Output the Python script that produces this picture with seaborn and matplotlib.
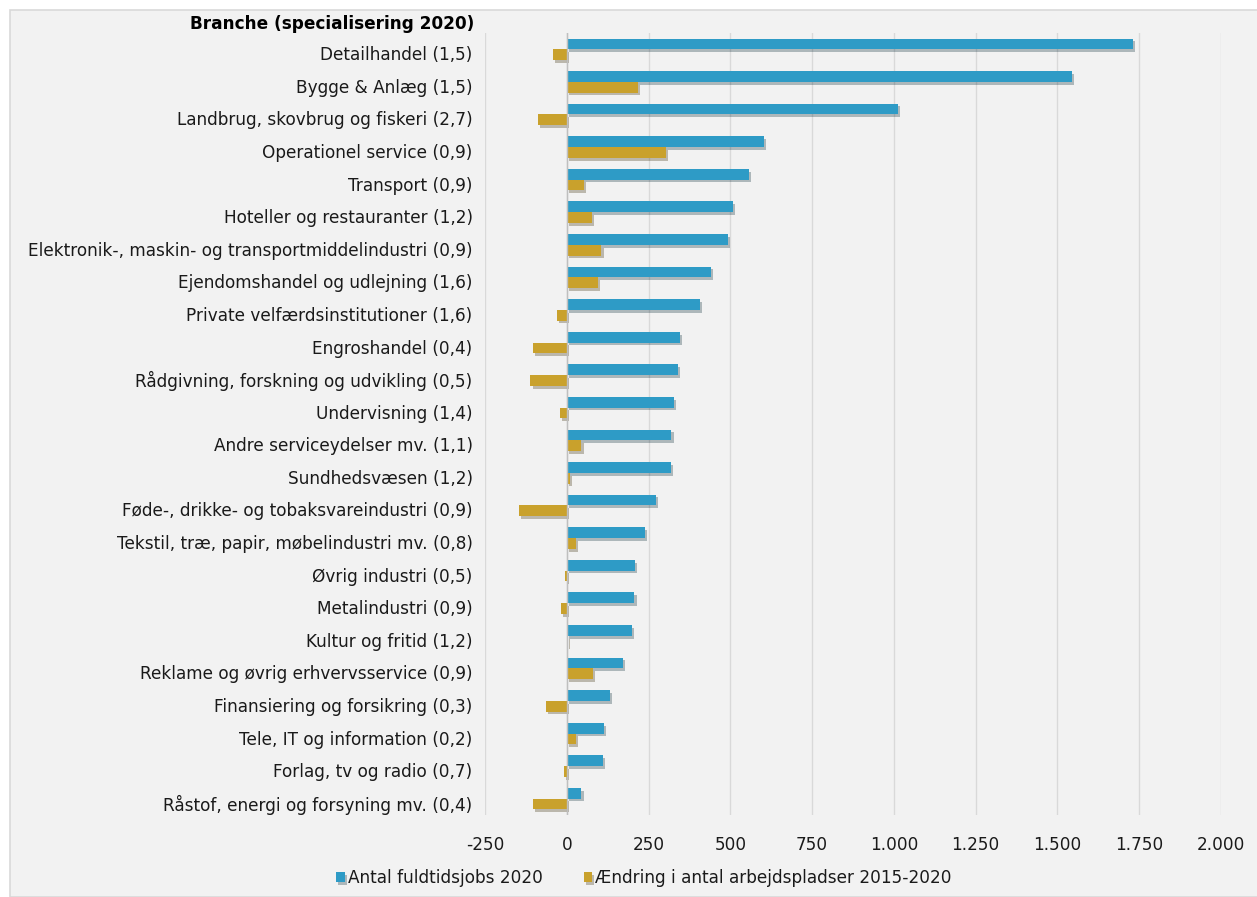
import numpy as np
import pandas as pd
import matplotlib
matplotlib.use('Agg')
import matplotlib.pyplot as plt
import matplotlib.patheffects as pe
import matplotlib.transforms as mtransforms
from matplotlib.patches import Rectangle
from matplotlib.ticker import FuncFormatter
import seaborn as sns

# ── Data ──────────────────────────────────────────────────────
branches = [
    'Detailhandel (1,5)', 'Bygge & Anlæg (1,5)', 'Landbrug, skovbrug og fiskeri (2,7)',
    'Operationel service (0,9)', 'Transport (0,9)', 'Hoteller og restauranter (1,2)',
    'Elektronik-, maskin- og transportmiddelindustri (0,9)', 'Ejendomshandel og udlejning (1,6)',
    'Private velfærdsinstitutioner (1,6)', 'Engroshandel (0,4)',
    'Rådgivning, forskning og udvikling (0,5)', 'Undervisning (1,4)',
    'Andre serviceydelser mv. (1,1)', 'Sundhedsvæsen (1,2)',
    'Føde-, drikke- og tobaksvareindustri (0,9)', 'Tekstil, træ, papir, møbelindustri mv. (0,8)',
    'Øvrig industri (0,5)', 'Metalindustri (0,9)', 'Kultur og fritid (1,2)',
    'Reklame og øvrig erhvervsservice (0,9)', 'Finansiering og forsikring (0,3)',
    'Tele, IT og information (0,2)', 'Forlag, tv og radio (0,7)',
    'Råstof, energi og forsyning mv. (0,4)',
]
jobs_2020 = [1730, 1545, 1013, 604, 558, 507, 493, 440, 408, 345, 339, 328,
             320, 319, 273, 238, 209, 207, 198, 172, 133, 113, 110, 45]
change_2015_2020 = [-43, 217, -89, 304, 53, 77, 106, 94, -31, -102, -111, -20,
                    45, 9, -145, 28, -4, -17, 5, 79, -64, 27, -10, -104]
series_names = ['Antal fuldtidsjobs 2020', 'Ændring i antal arbejdspladser 2015-2020']
xticks = [-250, 0, 250, 500, 750, 1000, 1250, 1500, 1750, 2000]

colors = ['#2e9bc6', '#c9a12c']

df = pd.DataFrame({
    'branche': branches * 2,
    'value': jobs_2020 + change_2015_2020,
    'serie': [series_names[0]] * len(branches) + [series_names[1]] * len(branches),
})

# ── Figure ────────────────────────────────────────────────────
plt.rcParams['font.family'] = ['DejaVu Sans']
FS = 12.2
W, H = 1257, 897
fig = plt.figure(figsize=(W / 100, H / 100), dpi=100, facecolor='white')
fig.patches.append(Rectangle((10 / W, 0), 1.2, (H - 10) / H, transform=fig.transFigure,
                             facecolor='#f2f2f2', edgecolor='#d9d9d9', lw=1.2, zorder=-10))

ax = fig.add_axes([485 / W, 1 - 815 / H, (1221 - 485) / W, (815 - 33) / H])
ax.set_facecolor('none')

sns.barplot(data=df, y='branche', x='value', hue='serie', hue_order=series_names,
            palette=colors, orient='h', width=0.66, saturation=1, ax=ax,
            order=branches, legend=True)

# subtle drop shadow like the Excel original
for p in ax.patches:
    p.set_path_effects([pe.SimplePatchShadow(offset=(1.5, -2), alpha=0.3, rho=0.3),
                        pe.Normal()])
    p.set_linewidth(0)

ax.set_xlim(-250, 2000)
ax.set_xticks(xticks)
ax.xaxis.set_major_formatter(FuncFormatter(lambda v, _: f'{int(v):,}'.replace(',', '.')))
ax.grid(axis='x', color='#d9d9d9', lw=1)
ax.set_axisbelow(True)
ax.axvline(0, color='#bfbfbf', lw=1, zorder=1)
for s in ax.spines.values():
    s.set_visible(False)
ax.tick_params(axis='both', length=0, labelsize=FS, colors='#1a1a1a')
ax.tick_params(axis='y', pad=9)
ax.tick_params(axis='x', pad=15)
ax.set_xlabel('')
ax.set_ylabel('')

# category labels sit a little below the bar pair, as in the original
shift = mtransforms.ScaledTranslation(0, -4 / 100, fig.dpi_scale_trans)
for lbl in ax.get_yticklabels():
    lbl.set_transform(lbl.get_transform() + shift)

fig.text(474 / W, 1 - 24 / H, 'Branche (specialisering 2020)', ha='right', va='center',
         fontsize=FS, fontweight='bold', color='#000000')

handles, labels = ax.get_legend_handles_labels()
ax.get_legend().remove()
fig.legend(handles, labels, loc='center', bbox_to_anchor=(644 / W, 1 - 878 / H), ncol=2,
           frameon=False, fontsize=FS, handlelength=0.5, handleheight=0.5,
           handletextpad=0.2, columnspacing=2.4, labelcolor='#1a1a1a')

plt.savefig('out.png', dpi=100, facecolor='white')
plt.close()
